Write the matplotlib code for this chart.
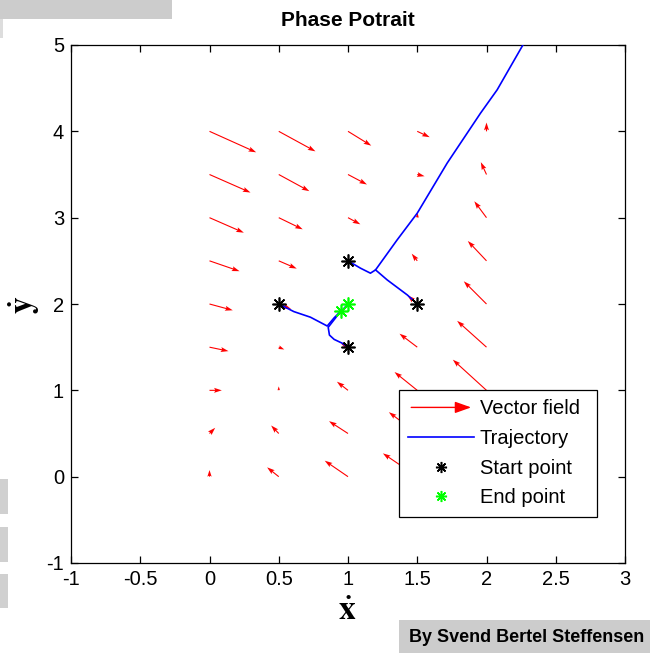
import matplotlib
matplotlib.use("Agg")
import matplotlib.pyplot as plt
import numpy as np
from matplotlib.patches import Rectangle, FancyArrowPatch
from matplotlib.lines import Line2D
from matplotlib.legend_handler import HandlerBase

plt.rcParams['font.family'] = ['Liberation Sans', 'DejaVu Sans']
plt.rcParams['mathtext.fontset'] = 'stix'

# ---- data ----
x_grid = [0.0, 0.5, 1.0, 1.5, 2.0]
y_grid = [0.0, 0.5, 1.0, 1.5, 2.0, 2.5, 3.0, 3.5, 4.0]

# vector field components, rows follow y_grid, columns follow x_grid
U = [
    [0.000, -0.084, -0.168, -0.248, -0.330],
    [0.041, -0.055, -0.137, -0.205, -0.290],
    [0.089,  0.000, -0.080, -0.164, -0.243],
    [0.137,  0.040, -0.050, -0.128, -0.212],
    [0.168,  0.090,  0.000, -0.070, -0.164],
    [0.217,  0.130,  0.030, -0.040, -0.135],
    [0.248,  0.173,  0.089,  0.003, -0.088],
    [0.296,  0.221,  0.137,  0.053, -0.041],
    [0.337,  0.265,  0.168,  0.090,  0.000],
]
V = [
    [0.077,  0.108,  0.185,  0.270,  0.440],
    [0.066,  0.093,  0.143,  0.247,  0.400],
    [0.000,  0.046,  0.100,  0.212,  0.355],
    [-0.046, -0.027, 0.040,  0.156,  0.305],
    [-0.073, -0.060, 0.000,  0.100,  0.263],
    [-0.120, -0.090, -0.020, 0.083,  0.230],
    [-0.174, -0.135, -0.077, 0.055,  0.190],
    [-0.209, -0.193, -0.116, -0.020, 0.143],
    [-0.243, -0.232, -0.166, -0.068, 0.102],
]

traj1_x = [0.5, 0.609, 0.729, 0.850, 0.90, 0.95]
traj1_y = [2.0, 1.912, 1.847, 1.745, 1.84, 1.92]
traj2_x = [1.0, 0.958, 0.900, 0.866, 0.857, 0.93, 1.0]
traj2_y = [1.5, 1.546, 1.590, 1.640, 1.730, 1.88, 2.0]
traj3_x = [1.0, 1.09, 1.162, 1.199, 1.355, 1.5, 1.716, 1.957, 2.077, 2.27]
traj3_y = [2.5, 2.415, 2.357, 2.395, 2.743, 3.052, 3.632, 4.211, 4.481, 5.02]
traj4_x = [1.5, 1.428, 1.283, 1.199]
traj4_y = [2.0, 2.105, 2.279, 2.395]

start_x = [0.5, 1.0, 1.0, 1.5]
start_y = [2.0, 1.5, 2.5, 2.0]
end_x = [0.95, 1.0]
end_y = [1.92, 2.0]

x_ticks = [-1, -0.5, 0, 0.5, 1, 1.5, 2, 2.5, 3]
y_ticks = [-1, 0, 1, 2, 3, 4, 5]

W, H = 654, 656
fig = plt.figure(figsize=(W / 100, H / 100), dpi=100)
fig.patch.set_facecolor('white')

# decorative gray blocks
gray = '#cccccc'
fig.patches.append(Rectangle((0, 1 - 19 / H), 172 / W, 19 / H, transform=fig.transFigure,
                             facecolor=gray, edgecolor='none'))
fig.patches.append(Rectangle((0, 1 - 38 / H), 3 / W, 19 / H, transform=fig.transFigure,
                             facecolor='#dddddd', edgecolor='none'))
for top, bot in [(479, 514), (527, 562), (574, 608)]:
    fig.patches.append(Rectangle((0, 1 - bot / H), 8 / W, (bot - top) / H,
                                 transform=fig.transFigure, facecolor='#d0d0d0',
                                 edgecolor='none'))
fig.patches.append(Rectangle((399 / W, 1 - 653 / H), 251 / W, 33 / H,
                             transform=fig.transFigure, facecolor=gray, edgecolor='none'))
fig.text(527 / W, 1 - 637 / H, 'By Svend Bertel Steffensen', ha='center', va='center',
         fontsize=13, fontweight='bold', color='black')

ax = fig.add_axes([71 / W, 1 - 563 / H, 554 / W, 518 / H])
ax.set_xlim(-1, 3)
ax.set_ylim(-1, 5)

XX, YY = np.meshgrid(x_grid, y_grid)
ax.quiver(XX, YY, np.array(U), np.array(V), angles='xy', scale_units='xy', scale=1,
          color='red', width=0.002, headwidth=4.5, headlength=7, headaxislength=6,
          zorder=2)

for tx, ty in [(traj1_x, traj1_y), (traj2_x, traj2_y), (traj3_x, traj3_y), (traj4_x, traj4_y)]:
    ax.plot(tx, ty, color='blue', lw=1.2, zorder=3)

star = (8, 2, 0)
ax.plot(start_x, start_y, ls='none', marker=star, color='black', ms=10, mew=1.2, zorder=4)
ax.plot(end_x, end_y, ls='none', marker=star, color='#00ff00', ms=10, mew=1.2, zorder=4)

ax.set_xticks(x_ticks)
ax.set_xticklabels(['-1', '-0.5', '0', '0.5', '1', '1.5', '2', '2.5', '3'])
ax.set_yticks(y_ticks)
ax.set_yticklabels([str(t) for t in y_ticks])
ax.tick_params(direction='in', top=True, right=True, length=5, width=0.9,
               labelsize=14.5, pad=5)
for s in ax.spines.values():
    s.set_linewidth(0.9)

fig.text(348 / W, 1 - 20 / H, 'Phase Potrait', ha='center', va='center',
         fontsize=15, fontweight='bold')
fig.text(347 / W, 1 - 612 / H, r'$\mathbf{\dot{x}}$', ha='center', va='center', fontsize=24)
fig.text(24 / W, 1 - 305 / H, r'$\mathbf{\dot{y}}$', ha='center', va='center', fontsize=24,
         rotation=90)


class ArrowHandle:
    pass


class HandlerArrow(HandlerBase):
    def create_artists(self, legend, orig_handle, xdescent, ydescent, width, height,
                       fontsize, trans):
        yc = height / 2 - ydescent
        a = FancyArrowPatch((-xdescent, yc), (-xdescent + width, yc),
                            arrowstyle='-|>,head_length=0.7,head_width=0.25',
                            mutation_scale=14, color='red', lw=1.0, transform=trans)
        return [a]


h_vec = ArrowHandle()
h_traj = Line2D([], [], color='blue', lw=1.2)
h_start = Line2D([], [], ls='none', marker=star, color='black', ms=8, mew=1.1)
h_end = Line2D([], [], ls='none', marker=star, color='#00ff00', ms=8, mew=1.1)

leg = ax.legend([h_vec, h_traj, h_start, h_end],
                ['Vector field', 'Trajectory', 'Start point', 'End point'],
                handler_map={ArrowHandle: HandlerArrow()},
                loc='upper left', bbox_to_anchor=(0.592, 0.334, 0.357, 0.0),
                mode='expand', fontsize=14.5, handlelength=3.25, handletextpad=0.3,
                labelspacing=0.53, borderpad=0.47, fancybox=False, framealpha=1,
                edgecolor='black', borderaxespad=0)
leg.get_frame().set_linewidth(0.9)
leg.set_zorder(10)

fig.savefig('out.png', dpi=100)
